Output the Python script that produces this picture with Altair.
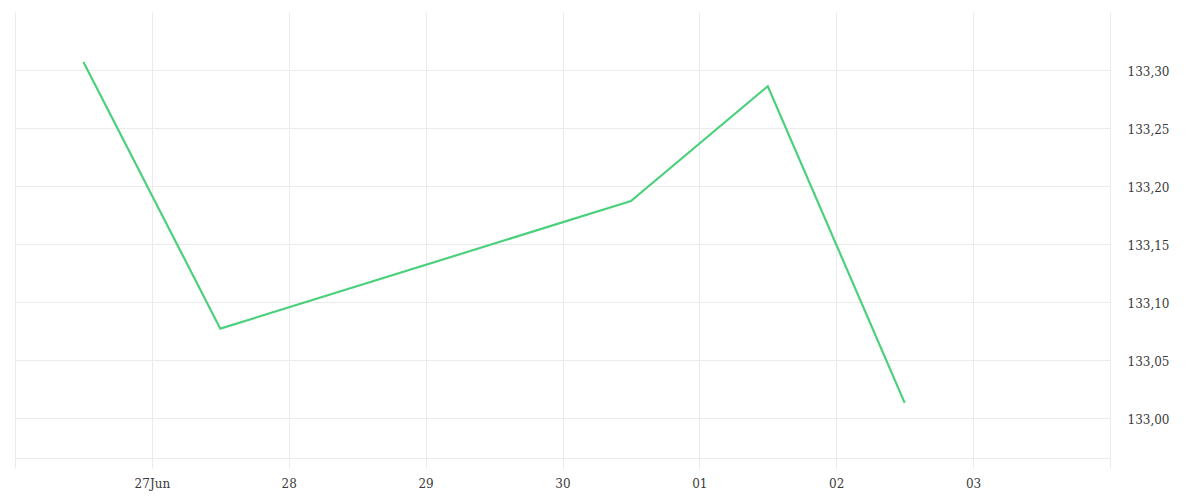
import altair as alt
import pandas as pd

dates = ["2025-06-26T12:00:00", "2025-06-27T12:00:00", "2025-06-30T12:00:00",
         "2025-07-01T12:00:00", "2025-07-02T12:00:00"]
values = [133.307, 133.077, 133.187, 133.286, 133.013]
y_ticks = [133.00, 133.05, 133.10, 133.15, 133.20, 133.25, 133.30]
tick_days = [(6, 26), (6, 27), (6, 28), (6, 29), (6, 30), (7, 1), (7, 2), (7, 3), (7, 4)]

df = pd.DataFrame({"date": dates, "value": values})

grid_color = "#ebebeb"
font = "DejaVu Serif"

x_vals = [alt.DateTime(year=2025, month=m, date=d) for m, d in tick_days]

chart = alt.Chart(df).mark_line(color="#4cd07d", strokeWidth=2.2).encode(
    x=alt.X("date:T",
            scale=alt.Scale(domain=[alt.DateTime(year=2025, month=6, date=26),
                                    alt.DateTime(year=2025, month=7, date=4)], nice=False),
            axis=alt.Axis(values=x_vals, title=None, grid=True, gridColor=grid_color,
                          domainColor=grid_color, tickColor=grid_color, tickSize=10,
                          labelPadding=10, labelFont=font, labelFontSize=12,
                          labelColor="#3a3a3a", labelOverlap=False,
                          labelExpr="(date(datum.value)==26 && month(datum.value)==5) || (date(datum.value)==4 && month(datum.value)==6) ? '' : (date(datum.value)==27 ? timeFormat(datum.value,'%d%b') : timeFormat(datum.value,'%d'))")),
    y=alt.Y("value:Q",
            scale=alt.Scale(domain=[132.9655, 133.35], nice=False, zero=False),
            axis=alt.Axis(orient="right", values=y_ticks, title=None, grid=True,
                          gridColor=grid_color, domain=False, ticks=False,
                          labelPadding=17, labelFont=font, labelFontSize=12,
                          labelColor="#3a3a3a", labelOffset=2,
                          labelExpr="replace(format(datum.value,'.2f'),'.',',')")),
).properties(
    width=1095, height=446,
    autosize=alt.AutoSizeParams(type="none"),
    padding={"left": 7, "top": 4, "right": 80, "bottom": 36},
).configure_view(stroke=None)

chart.save("out.html", embed_options={"renderer": "svg", "actions": False})
